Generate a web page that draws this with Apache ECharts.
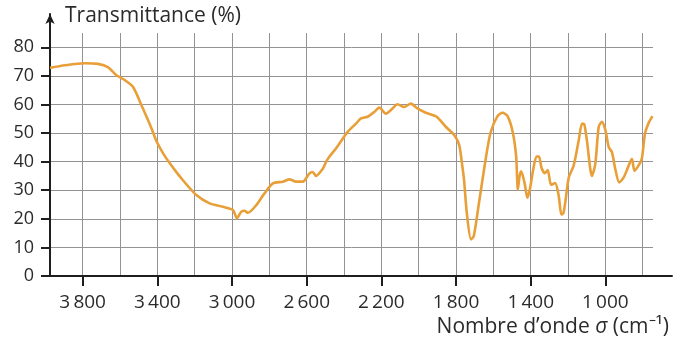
<!DOCTYPE html>
<html>
<head>
<meta charset="utf-8">
<script src="https://cdn.jsdelivr.net/npm/echarts@6/dist/echarts.min.js"></script>
<style>
html,body{margin:0;padding:0;background:#fff;}
#chart{width:689px;height:350px;}
</style>
</head>
<body>
<div id="chart"></div>
<script>
// Wavenumber (cm^-1) and transmittance (%)
const wavenumber = [3975, 3895, 3788, 3718, 3665, 3619, 3574, 3530, 3485, 3431, 3405, 3370, 3334, 3300, 3263, 3191, 3120, 3049, 2995, 2974, 2950, 2933, 2915, 2870, 2826, 2781, 2728, 2692, 2657, 2621, 2585, 2568, 2550, 2514, 2496, 2479, 2443, 2381, 2336, 2309, 2274, 2238, 2211, 2176, 2140, 2114, 2078, 2042, 2007, 1962, 1908, 1887, 1855, 1810, 1783, 1766, 1757, 1742, 1720, 1705, 1678, 1642, 1615, 1578, 1551, 1524, 1496, 1478, 1469, 1460, 1451, 1433, 1418, 1405, 1387, 1369, 1356, 1342, 1324, 1309, 1291, 1269, 1250, 1236, 1225, 1214, 1196, 1170, 1143, 1125, 1113, 1099, 1072, 1054, 1036, 1019, 1000, 982, 965, 947, 926, 902, 879, 858, 844, 823, 805, 788, 770, 748];
const transmittance = [72.8, 73.7, 74.4, 74.2, 73.1, 70.2, 68.5, 66.1, 59.7, 51.6, 47.2, 43.0, 39.5, 36.5, 33.5, 28.3, 25.4, 24.2, 23.1, 20.2, 22.5, 22.8, 22.1, 24.8, 28.9, 32.4, 33.0, 33.8, 33.0, 33.0, 35.9, 36.4, 35.0, 37.5, 39.9, 41.7, 44.6, 50.4, 53.3, 55.1, 55.7, 57.4, 58.9, 56.8, 58.6, 60.1, 59.1, 60.3, 58.6, 57.1, 55.9, 54.6, 52.2, 49.3, 45.8, 38.2, 33.5, 21.8, 12.8, 14.0, 25.2, 40.6, 50.2, 55.9, 57.1, 55.9, 50.2, 41.8, 30.2, 34.8, 36.6, 32.5, 27.4, 30.2, 37.1, 41.8, 41.8, 37.8, 36.0, 37.1, 31.9, 32.5, 28.0, 21.5, 22.0, 26.2, 34.5, 38.6, 47.4, 53.3, 53.0, 47.4, 35.0, 39.2, 52.1, 53.9, 51.0, 45.1, 43.3, 37.4, 32.7, 34.5, 38.0, 41.0, 36.8, 38.6, 41.0, 49.8, 53.3, 55.9];

const xTickValues = [3800, 3400, 3000, 2600, 2200, 1800, 1400, 1000];
const xGridValues = [3800, 3600, 3400, 3200, 3000, 2800, 2600, 2400, 2200, 2000, 1800, 1600, 1400, 1200, 1000, 800];
const yTickValues = [0, 10, 20, 30, 40, 50, 60, 70, 80];

const FONT = 'Open Sans';
const TEXT = '#2b2b2b';
const AXIS = '#1e1e1e';
const GRID = '#939393';

const seriesData = wavenumber.map((w, i) => [w, transmittance[i]]);

function fmtThousands(v) {
  const s = String(v);
  return s.length > 3 ? s.slice(0, s.length - 3) + '\u2009' + s.slice(-3) : s;
}

const chart = echarts.init(document.getElementById('chart'), null, {renderer: 'canvas'});
chart.setOption({
  animation: false,
  backgroundColor: '#ffffff',
  title: [
    {
      text: 'Transmittance (%)',
      left: 60, top: 1,
      textStyle: {fontFamily: FONT, fontSize: 21, fontWeight: 'normal', color: TEXT}
    },
    {
      text: 'Nombre d\u2019onde {i|σ} (cm\u207B\u00B9)',
      right: 15, top: 312,
      textStyle: {
        fontFamily: FONT, fontSize: 21, fontWeight: 'normal', color: TEXT,
        rich: {i: {fontFamily: FONT, fontSize: 21, fontStyle: 'italic', color: TEXT}}
      }
    }
  ],
  grid: [
    {left: 50, top: 33, width: 603, height: 243},
    {left: 50, top: 14, width: 622, height: 262}
  ],
  xAxis: [
    {
      gridIndex: 0, type: 'value', inverse: true, min: 745, max: 3975,
      axisLine: {show: false},
      axisTick: {show: true, customValues: xTickValues, length: 10, lineStyle: {color: AXIS, width: 2}},
      axisLabel: {customValues: xTickValues, formatter: fmtThousands, fontFamily: FONT, fontSize: 19, color: TEXT, margin: 17},
      splitLine: {show: false}
    },
    {
      gridIndex: 0, type: 'value', inverse: true, min: 745, max: 3975,
      axisLine: {show: false},
      axisTick: {show: false, customValues: xGridValues},
      axisLabel: {show: false},
      splitLine: {show: true, lineStyle: {color: GRID, width: 1}}
    },
    {
      gridIndex: 1, type: 'value', min: 0, max: 1,
      axisLine: {show: true, lineStyle: {color: AXIS, width: 2}},
      axisTick: {show: false}, axisLabel: {show: false}, splitLine: {show: false}
    }
  ],
  yAxis: [
    {
      gridIndex: 0, type: 'value', min: 0, max: 85,
      axisLine: {show: false},
      axisTick: {show: true, customValues: yTickValues, length: 9, lineStyle: {color: AXIS, width: 2}},
      axisLabel: {customValues: yTickValues, fontFamily: FONT, fontSize: 18, color: TEXT, margin: 16},
      splitLine: {show: true, lineStyle: {color: GRID, width: 1}}
    },
    {
      gridIndex: 1, type: 'value', min: 0, max: 1,
      axisLine: {show: true, symbol: ['none', 'arrow'], symbolSize: [7, 10], lineStyle: {color: AXIS, width: 2}},
      axisTick: {show: false}, axisLabel: {show: false}, splitLine: {show: false}
    }
  ],
  series: [
    {
      type: 'line', xAxisIndex: 0, yAxisIndex: 0,
      data: seriesData,
      showSymbol: false, smooth: 0.25,
      lineStyle: {color: '#e89f38', width: 2.6},
      z: 5
    }
  ]
});
</script>
</body>
</html>
